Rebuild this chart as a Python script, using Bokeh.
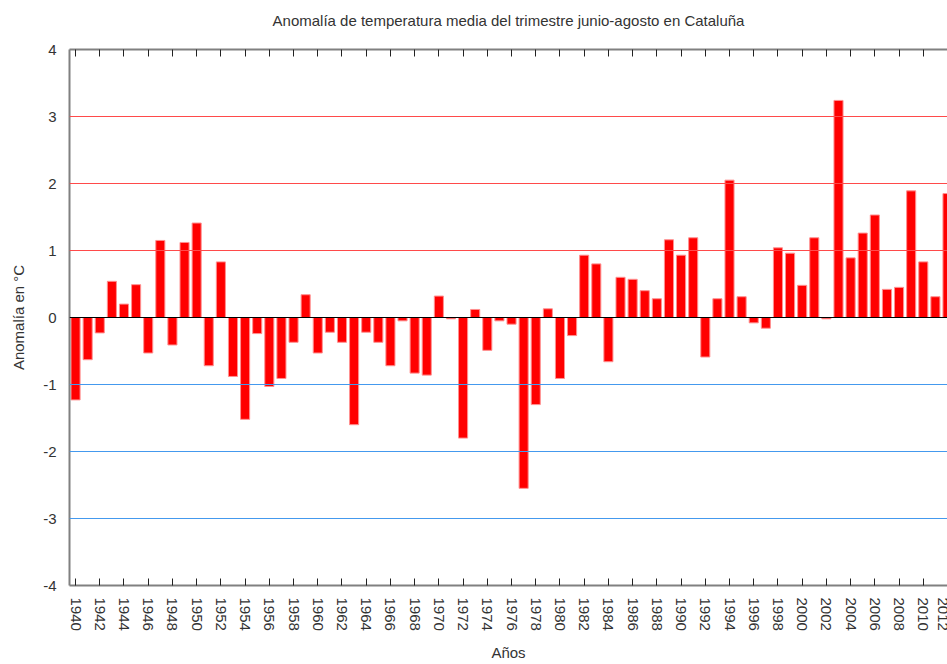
from bokeh.plotting import figure
from bokeh.models import (ColumnDataSource, FixedTicker, LinearAxis, Span, Range1d, Title,
                          CustomLabelingPolicy)
from bokeh.embed import file_html
from bokeh.resources import INLINE

years = list(range(1940, 2013))
anomaly = [
    -1.23, -0.63, -0.23, 0.54, 0.20, 0.49, -0.53, 1.15, -0.41, 1.12,
    1.41, -0.72, 0.83, -0.88, -1.52, -0.24, -1.03, -0.91, -0.37, 0.34,
    -0.53, -0.22, -0.37, -1.60, -0.22, -0.37, -0.72, -0.05, -0.83, -0.86,
    0.32, -0.02, -1.80, 0.12, -0.49, -0.05, -0.10, -2.55, -1.30, 0.13,
    -0.91, -0.27, 0.93, 0.80, -0.66, 0.60, 0.57, 0.40, 0.28, 1.16,
    0.93, 1.19, -0.59, 0.28, 2.05, 0.31, -0.08, -0.16, 1.04, 0.96,
    0.48, 1.19, -0.02, 3.24, 0.89, 1.26, 1.53, 0.42, 0.45, 1.89,
    0.83, 0.31, 1.85,
]
x_ticks = list(range(1940, 2013, 2))
y_ticks = [-4, -3, -2, -1, 0, 1, 2, 3, 4]
grid_warm = [1, 2, 3]
grid_cold = [-1, -2, -3]

title_text = "Anomalía de temperatura media del trimestre junio-agosto en Cataluña"
x_label = "Años"
y_label = "Anomalía en °C"

FONT = "Liberation Sans"
TXT = "#333333"
FS = "15px"

src = ColumnDataSource(data=dict(year=years, anomaly=anomaly))

p = figure(width=947, height=664, output_backend="svg", toolbar_location=None,
           x_range=Range1d(1939.5, 2012.0), y_range=Range1d(-4, 4),
           min_border_left=69, min_border_right=0, min_border_top=49,
           min_border_bottom=79, x_axis_location="below")

p.title = Title(text=title_text, align="center", text_font=FONT,
                text_font_size=FS, text_font_style="normal",
                text_color=TXT, offset=0, text_line_height=1.0)
p.title.standoff = 19

p.outline_line_color = None
p.xgrid.grid_line_color = None
p.ygrid.grid_line_color = None
p.background_fill_color = "white"
p.border_fill_color = "white"

for g in grid_warm:
    p.add_layout(Span(location=g, dimension="width", line_color="#ff4a4a", line_width=1))
for g in grid_cold:
    p.add_layout(Span(location=g, dimension="width", line_color="#4499ee", line_width=1))

p.vbar(x="year", top="anomaly", bottom=0, width=0.75, source=src,
       fill_color="#ff0000", line_color="#ff9090", line_width=1)

p.add_layout(Span(location=0, dimension="width", line_color="black", line_width=1))

# bottom axis
xa = p.xaxis[0]
xa.ticker = FixedTicker(ticks=x_ticks)
xa.major_label_orientation = -1.5707963
xa.major_tick_in = 7
xa.major_tick_out = 0
xa.minor_tick_line_color = None
xa.axis_line_color = "#808080"
xa.axis_line_width = 2
xa.major_tick_line_color = "#222222"
xa.major_label_text_font = FONT
xa.major_label_text_font_size = FS
xa.major_label_text_color = TXT
xa.major_label_standoff = 12
xa.axis_label = x_label
xa.axis_label_text_font = FONT
xa.axis_label_text_font_size = FS
xa.axis_label_text_font_style = "normal"
xa.axis_label_text_color = TXT
xa.axis_label_standoff = 10

# top axis (ticks only)
no_labels = CustomLabelingPolicy(code="""
for (let i = 0; i < indices.size; i++) { indices.unset(i) }
return indices
""")
ta = LinearAxis(ticker=FixedTicker(ticks=x_ticks), major_label_policy=no_labels,
                major_tick_in=7, major_tick_out=0, minor_tick_line_color=None,
                axis_line_color="#808080", axis_line_width=2,
                major_tick_line_color="#222222", major_label_standoff=0)
p.add_layout(ta, "above")

# left axis
ya = p.yaxis[0]
ya.ticker = FixedTicker(ticks=y_ticks)
ya.major_label_overrides = {t: str(t) for t in y_ticks}
ya.major_tick_in = 0
ya.major_tick_out = 0
ya.minor_tick_line_color = None
ya.axis_line_color = "#808080"
ya.axis_line_width = 2
ya.major_label_text_font = FONT
ya.major_label_text_font_size = FS
ya.major_label_text_color = TXT
ya.major_label_standoff = 13
ya.axis_label = y_label
ya.axis_label_text_font = FONT
ya.axis_label_text_font_size = FS
ya.axis_label_text_font_style = "normal"
ya.axis_label_text_color = TXT
ya.axis_label_standoff = 13

open("out.html", "w").write(file_html(p, INLINE))
